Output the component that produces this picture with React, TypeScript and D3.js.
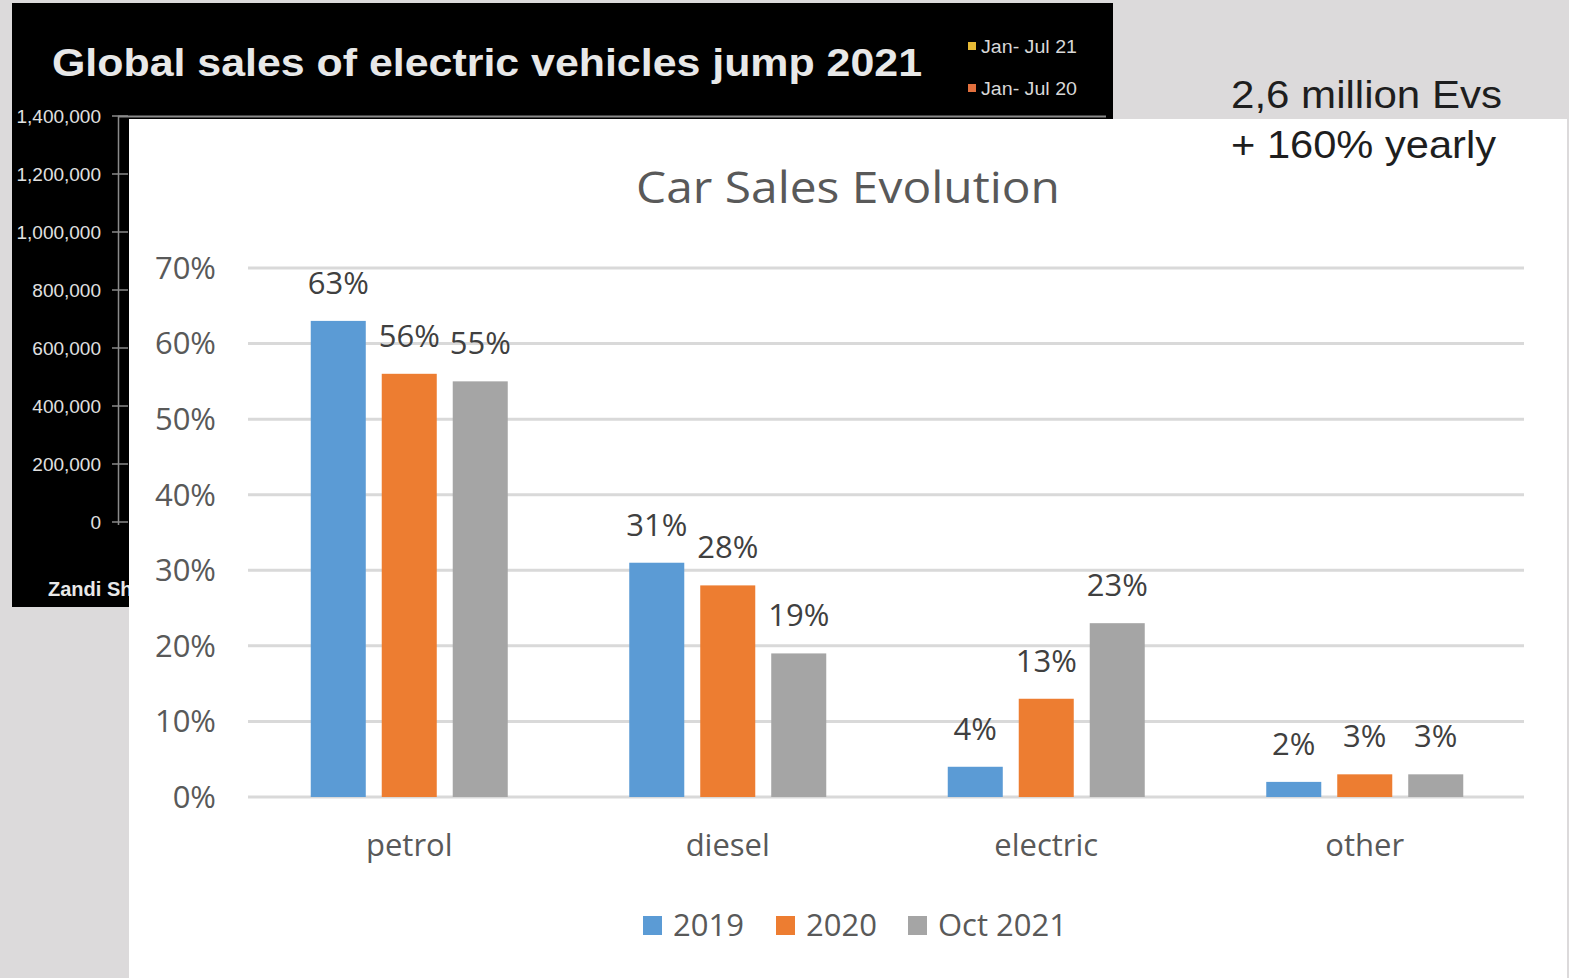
import React from "react";
import * as d3 from "d3";

const categories = ["petrol", "diesel", "electric", "other"];
const seriesNames = ["2019", "2020", "Oct 2021"];
const values2019 = [63, 31, 4, 2];
const values2020 = [56, 28, 13, 3];
const valuesOct2021 = [55, 19, 23, 3];
const yTicks = [0, 10, 20, 30, 40, 50, 60, 70];
const colors = ["#5b9bd5", "#ed7d31", "#a5a5a5"];

const bgTicks = [0, 200000, 400000, 600000, 800000, 1000000, 1200000, 1400000];
const bgLegend = ["Jan- Jul 21", "Jan- Jul 20"];
const bgLegendColors = ["#e6b935", "#e2703e"];

const W = 1569;
const H = 978;

export default function App() {
  const series = [values2019, values2020, valuesOct2021];
  const x0 = d3.scaleBand<string>().domain(categories).range([250, 1524]).padding(0);
  const groupW = 197;
  const x1 = d3
    .scaleBand<string>()
    .domain(seriesNames)
    .range([(x0.bandwidth() - groupW) / 2, (x0.bandwidth() + groupW) / 2])
    .paddingInner(0.225);
  const y = d3.scaleLinear().domain([0, 70]).range([797, 268]);
  const yBg = d3.scaleLinear().domain([0, 1400000]).range([522, 116]);
  const fmt = d3.format(",");
  const font = "'Open Sans', 'Noto Sans', sans-serif";
  const arial = "'Liberation Sans', Arial, sans-serif";
  const fs = 31;

  return (
    <svg
      width={W}
      height={H}
      style={{ position: "absolute", left: 0, top: 0, display: "block" }}
    >
      <rect x={0} y={0} width={W} height={H} fill="#dcdadb" />
      {/* background black chart */}
      <rect x={12} y={3} width={1101} height={604} fill="#000" />
      <text
        x={52}
        y={76}
        fill="#e8e8e8"
        fontFamily={arial}
        fontWeight="bold"
        fontSize={39}
        textLength={870}
        lengthAdjust="spacingAndGlyphs"
      >
        Global sales of electric vehicles jump 2021
      </text>
      {bgLegend.map((t, i) => (
        <g key={t}>
          <rect x={968} y={42 + i * 42} width={8} height={8} fill={bgLegendColors[i]} />
          <text x={981} y={53 + i * 42} fill="#d8d8d8" fontFamily={arial} fontSize={18} textLength={96} lengthAdjust="spacingAndGlyphs">
            {t}
          </text>
        </g>
      ))}
      <line x1={118} x2={1106} y1={116.5} y2={116.5} stroke="#8a8a8a" strokeWidth={2} />
      <line x1={118.5} x2={118.5} y1={116} y2={525} stroke="#8a8a8a" strokeWidth={1.5} />
      {bgTicks.map((t) => (
        <g key={t}>
          <line x1={112} x2={128} y1={yBg(t)} y2={yBg(t)} stroke="#8a8a8a" strokeWidth={1.5} />
          <text
            x={101}
            y={yBg(t)}
            dy="0.35em"
            textAnchor="end"
            fill="#e0e0e0"
            fontFamily={arial}
            fontSize={19}
          >
            {fmt(t)}
          </text>
        </g>
      ))}
      <text x={48} y={596} fill="#e8e8e8" fontFamily={arial} fontWeight="bold" fontSize={20}>
        Zandi Sh
      </text>

      {/* white chart panel */}
      <rect x={129} y={119} width={1438} height={H - 119} fill="#fff" />

      <text
        x={848}
        y={203}
        textAnchor="middle"
        fill="#595959"
        fontFamily={font}
        fontSize={44}
        textLength={424}
        lengthAdjust="spacingAndGlyphs"
      >
        Car Sales Evolution
      </text>

      {yTicks.map((t) => (
        <g key={t}>
          <line x1={248} x2={1524} y1={y(t)} y2={y(t)} stroke="#d9d9d9" strokeWidth={3} />
          <text
            x={216}
            y={y(t)}
            dy="0.35em"
            textAnchor="end"
            fill="#595959"
            fontFamily={font}
            fontSize={fs}
          >
            {t}%
          </text>
        </g>
      ))}

      {categories.map((c, ci) => (
        <g key={c} transform={`translate(${x0(c)},0)`}>
          {seriesNames.map((s, si) => {
            const v = series[si][ci];
            const bx = x1(s)!;
            return (
              <g key={s}>
                <rect
                  x={bx}
                  y={y(v)}
                  width={x1.bandwidth()}
                  height={y(0) - y(v)}
                  fill={colors[si]}
                />
                <text
                  x={bx + x1.bandwidth() / 2}
                  y={y(v) - 38}
                  dy="0.35em"
                  textAnchor="middle"
                  fill="#404040"
                  fontFamily={font}
                  fontSize={fs}
                >
                  {v}%
                </text>
              </g>
            );
          })}
          <text
            x={x0.bandwidth() / 2}
            y={845}
            dy="0.35em"
            textAnchor="middle"
            fill="#595959"
            fontFamily={font}
            fontSize={fs}
          >
            {c}
          </text>
        </g>
      ))}

      {/* legend */}
      {seriesNames.map((s, i) => {
        const lx = [643, 776, 908][i];
        return (
          <g key={s}>
            <rect x={lx} y={916} width={19} height={19} fill={colors[i]} />
            <text x={lx + 30} y={925} dy="0.35em" fill="#595959" fontFamily={font} fontSize={fs}>
              {s}
            </text>
          </g>
        );
      })}

      <text x={1231} y={108} fill="#1e1e1e" fontFamily={arial} fontSize={39} textLength={271} lengthAdjust="spacingAndGlyphs">
        2,6 million Evs
      </text>
      <text x={1231} y={158} fill="#1e1e1e" fontFamily={arial} fontSize={39} textLength={265} lengthAdjust="spacingAndGlyphs">
        + 160% yearly
      </text>
    </svg>
  );
}
